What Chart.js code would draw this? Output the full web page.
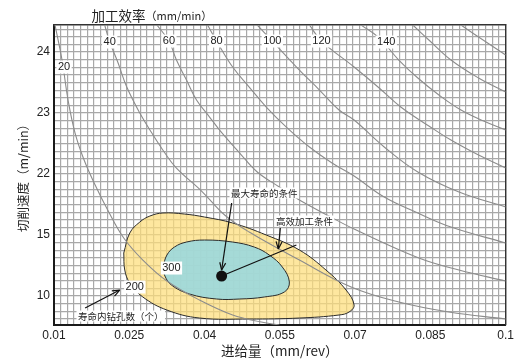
<!DOCTYPE html>
<html><head><meta charset="utf-8">
<script src="https://cdn.jsdelivr.net/npm/chart.js@4.4.1/dist/chart.umd.min.js"></script>
<style>html,body{margin:0;padding:0;background:#fff}canvas{display:block}</style>
</head><body>
<canvas id="c" width="517" height="363"></canvas>
<script>
// Axis ticks: feed (mm/rev) and cutting speed (m/min, one label per axis step)
const feedTicks = [0.01, 0.025, 0.04, 0.055, 0.07, 0.085, 0.1];
const feedTickLabels = ['0.01', '0.025', '0.04', '0.055', '0.07', '0.085', '0.1'];
const speedTickLabels = ['10', '15', '22', '23', '24'];

// Constant machining-efficiency curves (mm/min): feed and speed-axis position
const eff20Feed = [0.0102, 0.0116, 0.0128, 0.0142, 0.0160, 0.0182, 0.0207, 0.0239, 0.0277, 0.0325, 0.0390, 0.0456, 0.0513, 0.0549];
const eff20Speed = [4.443, 3.869, 3.213, 2.672, 2.230, 1.820, 1.410, 0.951, 0.590, 0.246, -0.066, -0.311, -0.426, -0.475];
const eff40Feed = [0.0201, 0.0211, 0.0227, 0.0245, 0.0271, 0.0295, 0.0321, 0.0344, 0.0396, 0.0440, 0.0489, 0.0589, 0.0692, 0.0787, 0.0887, 0.1000];
const eff40Speed = [4.443, 4.164, 3.836, 3.426, 3.000, 2.672, 2.344, 2.098, 1.705, 1.328, 1.049, 0.590, 0.148, -0.098, -0.262, -0.377];
const eff60Feed = [0.0305, 0.0329, 0.0344, 0.0364, 0.0384, 0.0410, 0.0430, 0.0470, 0.0505, 0.0549, 0.0589, 0.0648, 0.0698, 0.0827, 0.0907, 0.1000];
const eff60Speed = [4.443, 4.180, 3.869, 3.541, 3.213, 2.934, 2.721, 2.344, 2.033, 1.787, 1.574, 1.311, 1.098, 0.623, 0.426, 0.246];
const eff80Feed = [0.0406, 0.0424, 0.0456, 0.0489, 0.0523, 0.0563, 0.0609, 0.0654, 0.0698, 0.0758, 0.0825, 0.0891, 0.1000];
const eff80Speed = [4.443, 4.180, 3.754, 3.426, 3.098, 2.770, 2.443, 2.180, 1.967, 1.623, 1.361, 1.131, 0.869];
const eff100Feed = [0.0505, 0.0535, 0.0589, 0.0629, 0.0668, 0.0698, 0.0758, 0.0825, 0.0907, 0.1000];
const eff100Speed = [4.443, 4.180, 3.705, 3.377, 3.049, 2.885, 2.443, 2.033, 1.705, 1.459];
const eff120Feed = [0.0609, 0.0633, 0.0698, 0.0748, 0.0791, 0.0847, 0.0891, 0.0946, 0.1000];
const eff120Speed = [4.443, 4.180, 3.754, 3.410, 3.098, 2.787, 2.557, 2.311, 2.098];
const eff140Feed = [0.0712, 0.0748, 0.0787, 0.0825, 0.0867, 0.0911, 0.0956, 0.1000];
const eff140Speed = [4.443, 4.230, 3.869, 3.574, 3.295, 3.049, 2.869, 2.721];
const eff160Feed = [0.0815, 0.0847, 0.0891, 0.0946, 0.1000];
const eff160Speed = [4.443, 4.197, 3.869, 3.574, 3.344];
const eff180Feed = [0.0911, 0.0946, 0.1000];
const eff180Speed = [4.443, 4.246, 3.951];

// Curve labels (mm/min) and where they sit on their curves
const effLabels = ['20', '40', '60', '80', '100', '120', '140'];
const effLabelFeed = [0.0120, 0.0211, 0.0329, 0.0424, 0.0535, 0.0633, 0.0762];
const effLabelSpeed = [3.754, 4.164, 4.180, 4.180, 4.180, 4.180, 4.164];

// Tool-life contours: holes drilled per tool life (200 and 300 holes)
const life200Feed = [0.0239, 0.0251, 0.0271, 0.0291, 0.0317, 0.0360, 0.0400, 0.0456, 0.0523, 0.0589, 0.0642, 0.0682, 0.0698, 0.0688, 0.0668, 0.0589, 0.0489, 0.0390, 0.0325, 0.0277, 0.0251, 0.0241, 0.0239];
const life200Speed = [0.705, 1.033, 1.213, 1.311, 1.361, 1.344, 1.295, 1.197, 1.000, 0.754, 0.426, 0.098, -0.148, -0.262, -0.311, -0.361, -0.377, -0.361, -0.230, -0.016, 0.213, 0.426, 0.705];
const life300Feed = [0.0317, 0.0325, 0.0340, 0.0364, 0.0400, 0.0456, 0.0499, 0.0529, 0.0555, 0.0569, 0.0559, 0.0519, 0.0470, 0.0424, 0.0370, 0.0334, 0.0321, 0.0317];
const life300Speed = [0.475, 0.672, 0.803, 0.885, 0.918, 0.885, 0.803, 0.672, 0.475, 0.230, 0.066, -0.016, -0.049, -0.049, 0.033, 0.180, 0.328, 0.475];

// Maximum tool-life point
const bestFeed = [0.0434];
const bestSpeed = [0.328];

// Leader lines (start -> end)
const maxLifeArrowFeed = [0.0454, 0.0434];
const maxLifeArrowSpeed = [1.525, 0.426];
const effLineFeed = [0.0434, 0.0583];
const effLineSpeed = [0.328, 0.836];
const effArrowFeed = [0.0551, 0.0547];
const effArrowSpeed = [1.115, 0.770];
const holesArrowFeed = [0.0162, 0.0231];
const holesArrowSpeed = [-0.197, 0.098];

// Callout texts
const noteTexts = ['最大寿命的条件', '高效加工条件', '寿命内钻孔数（个）', '200', '300'];
const noteFeed = [0.0519, 0.0599, 0.0233, 0.0261, 0.0334];
const noteSpeed = [1.689, 1.230, -0.328, 0.148, 0.459];

const X_MIN = 0.01, X_MAX = 0.1, Y_MIN = -0.475, Y_MAX = 4.443;
const CJK = "'Noto Sans CJK SC', sans-serif";
const LAT = "'Liberation Sans', 'Noto Sans CJK SC', sans-serif";

const pts = (xs, ys) => xs.map((v, i) => ({ x: v, y: ys[i] }));

const curve = (xs, ys) => ({
  data: pts(xs, ys), showLine: true, pointRadius: 0, borderColor: '#8c8c8c',
  borderWidth: 1.1, tension: 0.4, fill: false, order: 5
});
const leader = (xs, ys, arrow) => ({
  data: pts(xs, ys), showLine: true, pointRadius: 0, borderColor: '#111',
  borderWidth: 1.2, tension: 0, fill: false, order: 2, arrow
});

const datasets = [
  { data: pts(life200Feed, life200Speed), showLine: true, pointRadius: 0, tension: 0.4,
    borderColor: '#2b2b2b', borderWidth: 1, backgroundColor: 'rgba(253,222,122,0.72)', fill: 'shape', order: 10 },
  { data: pts(life300Feed, life300Speed), showLine: true, pointRadius: 0, tension: 0.4,
    borderColor: '#2b2b2b', borderWidth: 1, backgroundColor: 'rgba(150,216,226,0.85)', fill: 'shape', order: 9 },
  curve(eff20Feed, eff20Speed), curve(eff40Feed, eff40Speed), curve(eff60Feed, eff60Speed),
  curve(eff80Feed, eff80Speed), curve(eff100Feed, eff100Speed), curve(eff120Feed, eff120Speed),
  curve(eff140Feed, eff140Speed), curve(eff160Feed, eff160Speed), curve(eff180Feed, eff180Speed),
  leader(maxLifeArrowFeed, maxLifeArrowSpeed, true),
  leader(effLineFeed, effLineSpeed, false),
  leader(effArrowFeed, effArrowSpeed, true),
  leader(holesArrowFeed, holesArrowSpeed, true),
  { data: pts(bestFeed, bestSpeed), pointRadius: 5.5, pointBackgroundColor: '#111', pointBorderWidth: 0, order: 1 }
];

function boxedText(ctx, text, px, py, font, color) {
  ctx.font = font;
  const w = ctx.measureText(text).width;
  const h = parseInt(font, 10);
  ctx.fillStyle = '#fff';
  ctx.fillRect(px - w / 2 - 1.5, py - h / 2 - 1, w + 3, h + 2);
  ctx.fillStyle = color;
  ctx.textAlign = 'center';
  ctx.textBaseline = 'middle';
  ctx.fillText(text, px, py);
}

const annotate = {
  id: 'annotate',
  afterDatasetsDraw(chart) {
    const { ctx, scales: { x, y } } = chart;
    ctx.save();
    // arrowheads on leader lines
    chart.data.datasets.forEach((ds, i) => {
      if (!ds.arrow) return;
      const d = chart.getDatasetMeta(i).data;
      const a = d[d.length - 2], b = d[d.length - 1];
      const ang = Math.atan2(b.y - a.y, b.x - a.x);
      ctx.strokeStyle = '#111';
      ctx.lineWidth = 1.2;
      ctx.beginPath();
      [-1, 1].forEach(s => {
        ctx.moveTo(b.x, b.y);
        ctx.lineTo(b.x - 8 * Math.cos(ang + s * 0.38), b.y - 8 * Math.sin(ang + s * 0.38));
      });
      ctx.stroke();
    });
    // efficiency curve labels
    effLabels.forEach((t, i) => {
      boxedText(ctx, t, x.getPixelForValue(effLabelFeed[i]), y.getPixelForValue(effLabelSpeed[i]),
        '11px ' + LAT, '#222');
    });
    // callouts
    noteTexts.forEach((t, i) => {
      const cjk = /[^\x00-\x7f]/.test(t);
      boxedText(ctx, t, x.getPixelForValue(noteFeed[i]), y.getPixelForValue(noteSpeed[i]),
        cjk ? '9.5px ' + CJK : '11px ' + LAT, '#222');
    });
    ctx.restore();
  },
  afterDraw(chart) {
    // efficiency scale caption above the plot
    const { ctx, chartArea } = chart;
    const parts = [['加工效率', '13.5px ' + CJK], ['（mm/min）', '11px ' + CJK]];
    ctx.save();
    let total = 0;
    parts.forEach(p => { ctx.font = p[1]; total += ctx.measureText(p[0]).width; });
    let cx = chart.scales.x.getPixelForValue(0.0295) - total / 2;
    const cy = chartArea.top - 9;
    ctx.fillStyle = '#222';
    ctx.textBaseline = 'middle';
    ctx.textAlign = 'left';
    parts.forEach(p => { ctx.font = p[1]; ctx.fillText(p[0], cx, cy); cx += ctx.measureText(p[0]).width; });
    ctx.restore();
  }
};

new Chart(document.getElementById('c'), {
  type: 'scatter',
  data: { datasets },
  options: {
    responsive: false,
    devicePixelRatio: 1,
    animation: false,
    layout: { padding: { left: 0, right: 10, top: 25, bottom: 0 } },
    plugins: { legend: { display: false }, tooltip: { enabled: false } },
    scales: {
      x: {
        type: 'linear', position: 'bottom', min: X_MIN, max: X_MAX,
        afterBuildTicks: s => { s.ticks = feedTicks.map(v => ({ value: v })); },
        afterFit: s => { s.height = 38; },
        ticks: { autoSkip: false, maxRotation: 0, padding: 3, color: '#222',
          font: { family: LAT, size: 12 }, callback: (v, i) => feedTickLabels[i] },
        grid: { display: false, drawTicks: false },
        border: { display: true, color: '#1a1a1a', width: 2 },
        title: { display: true, text: '进给量（mm/rev）', color: '#222',
          font: { family: CJK, size: 13.5 }, padding: { top: 0, bottom: 4 } }
      },
      y: {
        type: 'linear', position: 'left', min: Y_MIN, max: Y_MAX,
        afterBuildTicks: s => { s.ticks = speedTickLabels.map((_, i) => ({ value: i })); },
        afterFit: s => { s.width = 54; },
        ticks: { autoSkip: false, padding: 4, color: '#222',
          font: { family: LAT, size: 12 }, callback: (v, i) => speedTickLabels[i] },
        grid: { display: false, drawTicks: false },
        border: { display: true, color: '#1a1a1a', width: 2 },
        title: { display: true, text: '切削速度（m/min）', color: '#222',
          font: { family: CJK, size: 12.5 }, padding: { top: 16, bottom: 0 } }
      },
      xg: {
        type: 'linear', position: 'top', min: X_MIN, max: X_MAX,
        afterBuildTicks: s => { const t = []; for (let i = 0; i <= 68; i++) t.push({ value: X_MIN + i * (X_MAX - X_MIN) / 68 }); s.ticks = t; },
        afterFit: s => { s.height = 0; },
        ticks: { display: false },
        grid: { color: '#a8a8a8', lineWidth: 1.2, drawTicks: false },
        border: { display: true, color: '#333', width: 1.4 }
      },
      yg: {
        type: 'linear', position: 'right', min: Y_MIN, max: Y_MAX,
        afterBuildTicks: s => { const t = []; for (let i = -3; i <= 35; i++) t.push({ value: i / 8 }); s.ticks = t; },
        afterFit: s => { s.width = 0; },
        ticks: { display: false },
        grid: { color: '#a8a8a8', lineWidth: 1.2, drawTicks: false },
        border: { display: true, color: '#333', width: 1.4 }
      }
    }
  },
  plugins: [annotate]
});
</script>
</body></html>
